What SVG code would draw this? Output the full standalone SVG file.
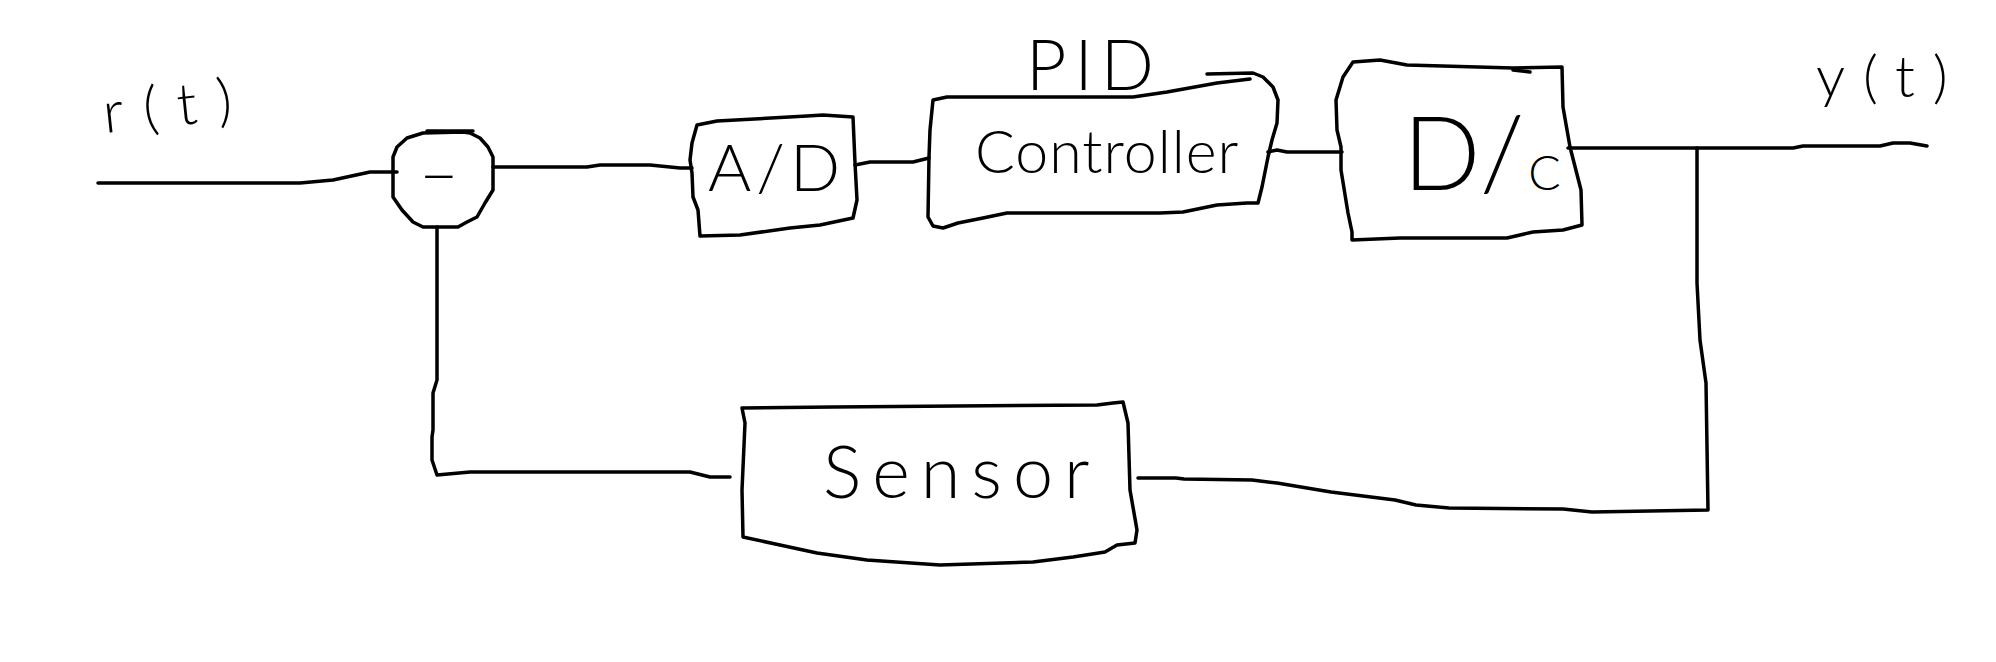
<svg xmlns="http://www.w3.org/2000/svg" width="1996" height="662" viewBox="0 0 1996 662">
<style>
.s{fill:none;stroke:#000;stroke-width:3.5;stroke-linejoin:round;stroke-linecap:round}
.t{font-family:Lato,"Liberation Sans",sans-serif;font-weight:300;fill:#000}
</style>
<rect width="1996" height="662" fill="#fff"/>
<g id="connectors">
<path class="s" d="M98,183 L300,183 L333,180 L370,172 L397,172"/>
<path class="s" d="M493,167 L587,167 L600,165 L650,165 L680,168 L692,168"/>
<path class="s" d="M855,165 L870,162 L913,162 L929,158"/>
<path class="s" d="M1268,152 L1277,150 L1287,152 L1342,152"/>
<path class="s" d="M1568,148 L1793,148 L1803,146 L1880,146 L1893,143 L1910,143 L1927,146"/>
<path class="s" d="M1697,148 L1697,283 L1700,340 L1706,383 L1708,510 L1592,512 L1563,509 L1449,508 L1416,505 L1395,500 L1331,492 L1277,483 L1252,480 L1184,479 L1176,478 L1138,478"/>
<path class="s" d="M730,477 L710,477 L690,472 L470,472 L437,475 L432,460 L432,437 L433,430 L433,393 L437,380 L437,227"/>
</g>
<g id="label-r">
<text class="t" x="105" y="133" font-size="58" letter-spacing="20" transform="rotate(-6 105 133)">r(t)</text>
</g>
<g id="label-y">
<text class="t" x="1816" y="97" font-size="58" letter-spacing="18">y(t)</text>
</g>
<g id="sum">
<path class="s" d="M423,133 L407,138 L397,147 L393,157 L393,197 L402,210 L413,222 L423,227 L458,227 L467,222 L477,217 L485,203 L493,190 L493,157 L488,147 L480,138 L470,133 L463,132 Z"/>
<path class="s" d="M427,131 L473,131"/>
<text class="t" x="439" y="199" font-size="66" text-anchor="middle">−</text>
</g>
<g id="ad">
<path class="s" d="M697,125 L717,121 L807,116 L823,115 L853,117 L855,163 L857,200 L853,218 L820,225 L790,228 L740,235 L700,236 L698,210 L693,197 L692,173 L690,160 L692,143 Z"/>
<text class="t" x="708" y="191" font-size="66" letter-spacing="5">A/D</text>
</g>
<g id="controller">
<path class="s" d="M1207,74 L1253,73 L1263,77 L1273,87 L1278,100 L1277,123 L1272,140 L1268,157 L1262,187 L1258,203 L1247,203 L1217,205 L1183,212 L1160,213 L1007,213 L983,218 L958,223 L943,228 L933,226 L928,217 L929,157 L930,130 L933,100 L947,97 L1133,97 L1167,92 L1217,83 L1250,79"/>
<text class="t" x="1026" y="90" font-size="70" letter-spacing="8">PID</text>
<text class="t" x="975" y="173" font-size="59" letter-spacing="1">Controller</text>
</g>
<g id="dc">
<path class="s" d="M1353,62 L1380,60 L1407,65 L1513,68 L1562,67 L1563,107 L1570,147 L1581,190 L1582,225 L1563,230 L1533,232 L1507,238 L1400,238 L1352,240 L1352,232 L1348,213 L1341,170 L1341,147 L1337,130 L1336,100 L1343,77 Z"/>
<path class="s" d="M1513,70 L1530,72"/>
<text class="t" x="1403" y="190" font-size="102">D/<tspan font-size="48" dx="4">C</tspan></text>
</g>
<g id="sensor">
<path class="s" d="M742,408 L833,407 L1097,405 L1113,403 L1123,402 L1128,423 L1130,490 L1137,530 L1135,543 L1117,545 L1105,552 L1073,557 L1033,562 L940,565 L867,560 L817,553 L780,545 L743,537 L742,490 L745,423 Z"/>
<text class="t" x="823" y="498" font-size="72" letter-spacing="11">Sensor</text>
</g>
</svg>
